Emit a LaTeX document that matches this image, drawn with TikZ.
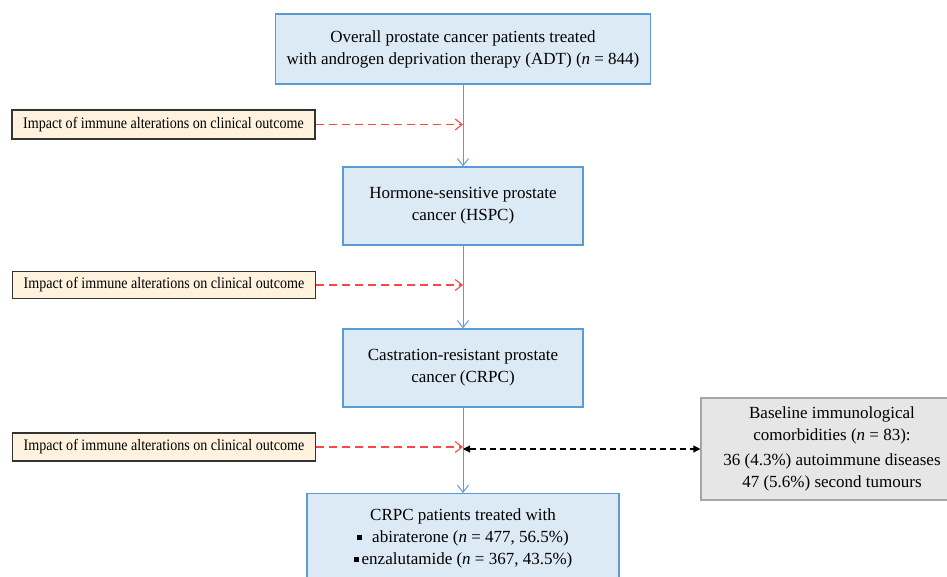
\documentclass[tikz,border=0pt]{standalone}
\usepackage{fontspec}
\setmainfont{Liberation Serif}
\newfontfamily\condfont[FakeStretch=0.88]{Liberation Serif}
\usetikzlibrary{arrows.meta}
\definecolor{bluefill}{RGB}{220,234,246}
\definecolor{blueline}{RGB}{91,155,213}
\definecolor{arrowblue}{RGB}{100,150,225}
\definecolor{creamfill}{RGB}{255,242,222}
\definecolor{grayfill}{RGB}{230,230,230}
\definecolor{grayline}{RGB}{166,166,166}
\definecolor{redline}{RGB}{255,70,70}
\newcommand{\sqbullet}{\rule[0.3ex]{5pt}{5pt}}
\begin{document}
\begin{tikzpicture}[x=1pt,y=-1pt,
  bluebox/.style={draw=blueline, fill=bluefill, line width=1.3pt, align=center,
    font=\fontsize{17}{22}\selectfont, inner sep=0pt},
  impbox/.style={draw=black!80, fill=creamfill, line width=1.2pt, align=center,
    font=\condfont\fontsize{16}{19}\selectfont, minimum width=303pt, inner sep=0pt},
  graybox/.style={draw=grayline, fill=grayfill, line width=1.2pt, align=center,
    font=\fontsize{17}{22}\selectfont, inner sep=0pt},
  flow/.style={draw=arrowblue, line width=1pt, -{Straight Barb[length=7pt,width=11pt,line width=1pt]}},
  impact/.style={draw=redline, line width=1.2pt, dash pattern=on 8pt off 5pt,
    -{Straight Barb[length=7pt,width=11pt,line width=1.1pt]}},
  comorb/.style={draw=black, line width=1.1pt, dash pattern=on 6pt off 4pt,
    {Triangle[length=7pt,width=7pt]}-{Triangle[length=7pt,width=7pt]}}
]
\useasboundingbox (0,0) rectangle (947,577);
\clip (0,0) rectangle (947,577);

\node[bluebox, minimum width=375pt, minimum height=70pt] (adt) at (463,49)
  {Overall prostate cancer patients treated\\with androgen deprivation therapy (ADT) (\textit{n} = 844)};
\node[bluebox, minimum width=240pt, minimum height=78pt] (hspc) at (463,206)
  {Hormone-sensitive prostate\\cancer (HSPC)};
\node[bluebox, minimum width=240pt, minimum height=78pt] (crpc) at (463,368)
  {Castration-resistant prostate\\cancer (CRPC)};
\node[bluebox, minimum width=312pt, minimum height=90pt, anchor=north] (treat) at (463,493)
  {CRPC patients treated with\\
   \sqbullet\hspace{10pt}abiraterone (\textit{n} = 477, 56.5\%)\\
   \sqbullet\hspace{3pt}enzalutamide (\textit{n} = 367, 43.5\%)};

\node[impbox, minimum height=29pt] (imp1) at (163.5,124.5) {Impact of immune alterations on clinical outcome};
\node[impbox, minimum height=27pt] (imp2) at (164,285) {Impact of immune alterations on clinical outcome};
\node[impbox, minimum height=28pt] (imp3) at (164,447) {Impact of immune alterations on clinical outcome};

\node[graybox, minimum width=262pt, minimum height=102pt] (como) at (832,449)
  {Baseline immunological\\comorbidities (\textit{n} = 83):\\[3pt]
   36 (4.3\%) autoimmune diseases\\47 (5.6\%) second tumours};

\draw[flow] (adt.south) -- (hspc.north);
\draw[flow] (hspc.south) -- (crpc.north);
\draw[flow] (crpc.south) -- (treat.north);

\draw[impact] (imp1.east) -- (imp1.east -| adt.south);
\draw[impact] (imp2.east) -- (imp2.east -| hspc.south);
\draw[impact] (imp3.east) -- (imp3.east -| crpc.south);

\draw[comorb] (como.west -| crpc.south) -- (como.west);
\end{tikzpicture}
\end{document}
